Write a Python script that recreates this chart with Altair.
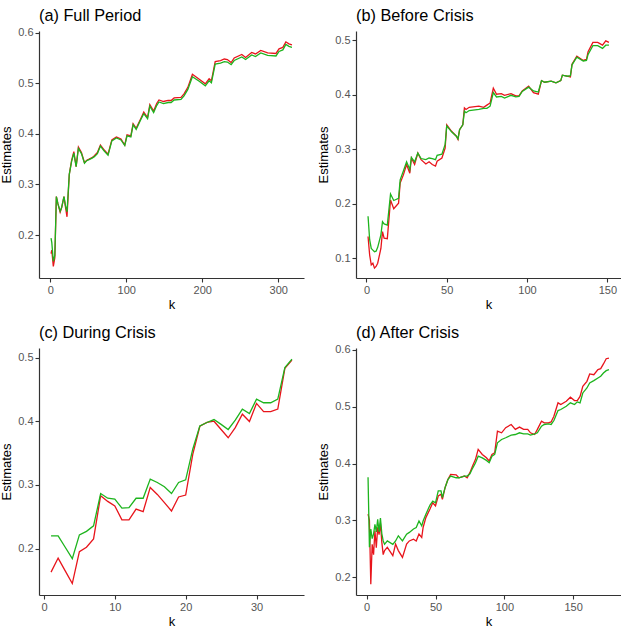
import altair as alt
import pandas as pd

# (a) Full Period
A_K = [1, 2, 4, 6, 8, 10, 13, 15, 18, 20, 22, 25, 28, 31, 34, 37, 41, 45, 48, 51,
       55, 58, 62, 66, 71, 76, 81, 87, 93, 98, 101, 106, 109, 113, 119, 123, 128, 131, 136, 140,
       143, 149, 155, 159, 163, 172, 176, 181, 187, 196, 204, 209, 212, 217, 224, 229, 233, 238, 242, 252,
       257, 265, 270, 277, 286, 297, 301, 306, 310, 314, 318]
A_RED = [.163, .17, .138, .155, .276, .262, .245, .254, .276, .255, .236, .32, .347, .365, .335, .374, .363, .343, .348, .35,
         .353, .357, .363, .378, .368, .36, .388, .394, .39, .378, .398, .396, .42, .411, .43, .443, .432, .458, .445, .46,
         .467, .464, .466, .466, .471, .472, .479, .492, .518, .508, .499, .509, .505, .543, .545, .548, .547, .541, .55, .557,
         .551, .561, .558, .565, .56, .559, .568, .571, .582, .578, .576]
A_GREEN = [.194, .185, .148, .16, .276, .262, .247, .255, .276, .258, .246, .32, .345, .362, .335, .371, .361, .342, .347, .349,
           .352, .355, .361, .376, .366, .358, .386, .392, .388, .377, .396, .394, .418, .409, .428, .44, .43, .455, .442, .456,
           .463, .46, .462, .462, .467, .468, .475, .488, .513, .504, .495, .505, .501, .538, .54, .543, .542, .537, .545, .552,
           .547, .556, .553, .56, .555, .554, .563, .566, .577, .573, .571]

# (b) Before Crisis
B_K = [1, 2, 3, 4, 5, 6, 7, 9, 10, 11, 13, 15, 17, 20, 21, 23, 25, 27, 28, 30,
       32, 34, 37, 39, 41, 43, 44, 47, 49, 50, 53, 56, 57, 58, 60, 61, 62, 64, 70, 73,
       75, 77, 79, 81, 84, 86, 90, 93, 95, 97, 101, 104, 107, 109, 111, 115, 118, 121, 122, 125,
       127, 128, 131, 135, 137, 138, 141, 144, 147, 149, 151]
B_RED = [.14, .106, .088, .091, .082, .085, .091, .118, .149, .137, .136, .207, .191, .201, .238, .253, .272, .256, .284, .272,
         .293, .281, .273, .277, .272, .269, .278, .284, .302, .345, .333, .324, .318, .336, .345, .376, .373, .377, .379, .377,
         .381, .385, .412, .401, .402, .399, .402, .398, .398, .407, .416, .404, .401, .426, .423, .425, .422, .426, .436, .434,
         .4325, .456, .471, .463, .465, .479, .496, .496, .491, .499, .496]
B_GREEN = [.177, .134, .118, .115, .112, .113, .12, .143, .167, .163, .161, .218, .206, .21, .244, .26, .277, .263, .285, .277,
           .293, .283, .281, .284, .283, .281, .289, .291, .309, .343, .332, .324, .319, .336, .345, .37, .367, .371, .373, .375,
           .375, .379, .404, .396, .397, .394, .399, .396, .397, .406, .414, .407, .405, .426, .423, .425, .422, .426, .436, .434,
           .435, .455, .469, .462, .463, .474, .49, .49, .485, .491, .491]

# (c) During Crisis
C_K = list(range(1, 36))
C_RED = [.163, .185, .165, .145, .195, .202, .215, .283, .274, .267, .245, .245, .262, .258, .296, .285, .272, .259, .281, .284,
         .348, .392, .398, .4, .387, .374, .39, .411, .3995, .428, .415, .415, .419, .483, .496]
C_GREEN = [.22, .22, .202, .184, .2215, .227, .2356, .2864, .279, .2775, .2634, .2644, .279, .279, .309, .3037, .297, .2864, .3037, .308,
           .356, .3927, .398, .4026, .395, .387, .4016, .419, .412, .4346, .429, .429, .4346, .4843, .4974]

# (d) After Crisis
D_K = [1, 2, 3, 4, 5, 6, 7, 8, 9, 10, 11, 12, 13, 15, 19, 21, 23, 26, 29, 31,
       34, 36, 38, 40, 41, 43, 46, 48, 50, 52, 54, 55, 57, 59, 61, 65, 67, 71, 73, 75,
       77, 79, 81, 84, 87, 89, 91, 93, 95, 98, 101, 105, 108, 111, 114, 117, 119, 122, 124, 127,
       129, 132, 134, 136, 139, 141, 145, 148, 151, 153, 155, 157, 160, 162, 165, 168, 170, 172, 174, 176]
D_RED = [.311, .3, .188, .258, .24, .282, .252, .288, .275, .295, .262, .24, .247, .2526, .238, .2584, .247, .235, .2584, .264,
         .267, .264, .276, .27, .2876, .305, .32, .331, .3256, .343, .346, .337, .358, .372, .381, .38, .375, .378, .375, .384,
         .396, .407, .425, .416, .41, .4044, .416, .419, .457, .454, .463, .4686, .46, .464, .46, .46, .454, .451, .46, .4745,
         .4715, .4715, .473, .4832, .5066, .5036, .5095, .5165, .5107, .5107, .518, .5358, .5445, .5574, .556, .565, .5667, .575, .5842, .5854]
D_GREEN = [.376, .253, .285, .268, .276, .293, .28, .302, .28, .304, .277, .264, .258, .264, .258, .264, .273, .264, .276, .279,
           .285, .2876, .299, .2905, .299, .311, .327, .334, .331, .352, .352, .34, .358, .372, .378, .375, .375, .378, .378, .382,
           .392, .401, .413, .41, .4055, .4015, .413, .416, .4365, .4423, .4453, .45, .451, .454, .452, .452, .45, .452, .454, .4657,
           .4686, .4695, .4686, .4756, .493, .4949, .5007, .5066, .5036, .5083, .5066, .524, .5328, .5416, .5457, .5504, .5533, .5591, .5632, .565]

RED = "#E8141B"
GREEN = "#1DB41D"
FONT = "Liberation Sans"
W, H = 265, 247


def panel(title, k, red, green, xdom, xticks, ydom, yticks):
    df = pd.DataFrame({"k": k, "red": red, "green": green})
    x = alt.X("k:Q", title="k",
              scale=alt.Scale(domain=xdom, nice=False, zero=False),
              axis=alt.Axis(values=xticks, format="d"))
    yscale = alt.Scale(domain=ydom, nice=False, zero=False)
    yaxis = alt.Axis(values=yticks, format=".1f")
    base = alt.Chart(df)
    red_line = base.mark_line(color=RED, strokeWidth=1.3).encode(
        x=x, y=alt.Y("red:Q", title="Estimates", scale=yscale, axis=yaxis))
    green_line = base.mark_line(color=GREEN, strokeWidth=1.3).encode(
        x=x, y=alt.Y("green:Q", title="Estimates", scale=yscale, axis=yaxis))
    # panel heading, left-aligned with the plot area
    heading = alt.Chart(pd.DataFrame({"t": [title]})).mark_text(
        align="left", baseline="alphabetic", fontSize=16.3, font=FONT, color="#000000"
    ).encode(text="t:N", x=alt.value(0), y=alt.value(-10.5))
    return alt.layer(red_line, green_line, heading).properties(width=W, height=H)


a = panel("(a) Full Period", A_K, A_RED, A_GREEN, [-14.85, 333.85], [0, 100, 200, 300],
          [0.115, 0.6034], [0.2, 0.3, 0.4, 0.5, 0.6])
b = panel("(b) Before Crisis", B_K, B_RED, B_GREEN, [-6.5, 158.5], [0, 50, 100, 150],
          [0.0638, 0.517], [0.1, 0.2, 0.3, 0.4, 0.5])
c = panel("(c) During Crisis", C_K, C_RED, C_GREEN, [-0.7, 36.7], [0, 10, 20, 30],
          [0.127, 0.515], [0.2, 0.3, 0.4, 0.5])
d = panel("(d) After Crisis", D_K, D_RED, D_GREEN, [-7.75, 184.75], [0, 50, 100, 150],
          [0.169, 0.603], [0.2, 0.3, 0.4, 0.5, 0.6])

chart = alt.vconcat(
    alt.hconcat(a, b, spacing=13),
    alt.hconcat(c, d, spacing=13),
    spacing=13,
).properties(
    padding={"left": 0, "top": 7, "right": 0, "bottom": 0}
).configure(
    font=FONT
).configure_view(
    stroke=None
).configure_axis(
    grid=False,
    domainColor="#333333", domainWidth=1.2,
    tickColor="#333333", tickWidth=1.1, tickSize=4,
    labelColor="#555555", labelFontSize=11, labelPadding=2, labelFont=FONT,
    titleColor="#000000", titleFontSize=13, titleFontWeight="normal", titleFont=FONT,
).configure_axisY(
    titlePadding=4, titleColor="#000000", titleFontWeight="normal"
).configure_axisX(
    titlePadding=3, titleColor="#000000", titleFontWeight="normal"
)

chart.save("out.html", embed_options={"renderer": "svg", "actions": False})
